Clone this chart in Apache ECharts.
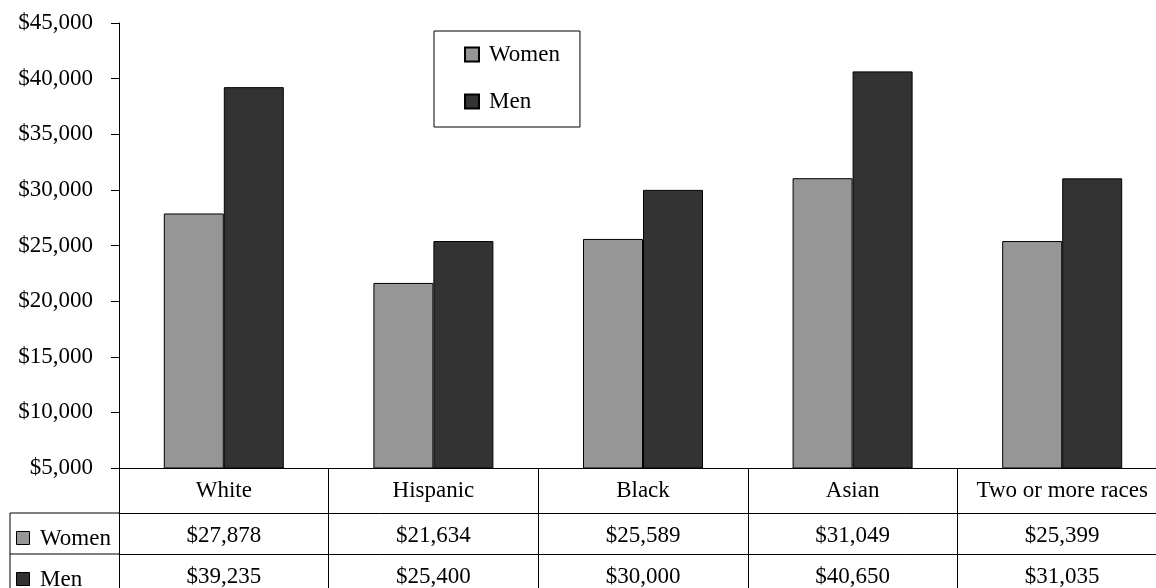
<!DOCTYPE html>
<html><head><meta charset="utf-8">
<script src="https://cdn.jsdelivr.net/npm/echarts@6/dist/echarts.min.js"></script>
<style>html,body{margin:0;padding:0;background:#fff;overflow:hidden;width:1156px;height:588px}#c{width:1180px;height:588px}</style>
</head><body><div id="c"></div>
<script>
const categories = ['White', 'Hispanic', 'Black', 'Asian', 'Two or more races'];
const seriesNames = ['Women', 'Men'];
const womenValues = [27878, 21634, 25589, 31049, 25399];
const menValues = [39235, 25400, 30000, 40650, 31035];
const yMin = 5000, yMax = 45000, yInterval = 5000;
const seriesColors = ['#969696', '#333333'];

const FONT = 'Liberation Serif';
const FS = 23;
const fmt = v => '$' + v.toLocaleString('en-US');
const GL = 119, GT = 23, GW = 1048, GH = 445;
const HEADER_H = 45, ROW_H = 41;
const TABLE_LEFT = 10;
const axisBottom = GT + GH;
const rowTops = [axisBottom + HEADER_H, axisBottom + HEADER_H + ROW_H];
const valueRows = [womenValues, menValues];

const chart = echarts.init(document.getElementById('c'), null, {renderer: 'canvas'});

const lineStyle = {color: '#000', width: 1};
const xAxes = [{
  type: 'category', data: categories, position: 'bottom', gridIndex: 0,
  axisLine: {show: true, lineStyle},
  axisTick: {show: true, length: HEADER_H + 2 * ROW_H + 20, lineStyle},
  axisLabel: {color: '#000', fontFamily: FONT, fontSize: FS, margin: 11, interval: 0}
}];
valueRows.forEach((vals, i) => {
  xAxes.push({
    type: 'category', data: categories, position: 'bottom', gridIndex: 0,
    offset: HEADER_H + i * ROW_H,
    axisLine: {show: true, lineStyle},
    axisTick: {show: false},
    axisLabel: {color: '#000', fontFamily: FONT, fontSize: FS, margin: 11, interval: 0,
      formatter: (v, idx) => fmt(vals[idx])}
  });
});

const graphics = [];
rowTops.forEach((top, i) => {
  graphics.push({type: 'line', shape: {x1: TABLE_LEFT, y1: top, x2: GL, y2: top}, style: {stroke: '#000', lineWidth: 1}});
  graphics.push({type: 'rect', shape: {x: TABLE_LEFT + 6.5, y: top + 18.5, width: 13, height: 13},
    style: {fill: seriesColors[i], stroke: '#000', lineWidth: 1}});
  graphics.push({type: 'text', x: TABLE_LEFT + 30, y: top + 25.5,
    style: {text: seriesNames[i], font: FS + 'px "' + FONT + '"', fill: '#000', textVerticalAlign: 'middle', textAlign: 'left'}});
});
graphics.push({type: 'line', shape: {x1: TABLE_LEFT, y1: rowTops[0], x2: TABLE_LEFT, y2: 600}, style: {stroke: '#000', lineWidth: 1}});

chart.setOption({
  animation: false,
  backgroundColor: '#fff',
  grid: {left: GL, top: GT, width: GW, height: GH, containLabel: false},
  legend: {
    orient: 'vertical', left: 434, top: 31,
    padding: [12, 20, 14, 30], itemGap: 24, itemWidth: 14, itemHeight: 14,
    borderColor: '#000', borderWidth: 1, backgroundColor: '#fff',
    textStyle: {color: '#000', fontFamily: FONT, fontSize: FS, padding: [0, 0, 0, 5]},
    icon: 'rect', data: seriesNames
  },
  xAxis: xAxes,
  yAxis: {
    type: 'value', min: yMin, max: yMax, interval: yInterval,
    axisLine: {show: true, lineStyle},
    axisTick: {show: true, length: 8, lineStyle},
    splitLine: {show: false},
    axisLabel: {color: '#000', fontFamily: FONT, fontSize: FS, margin: 26, formatter: fmt}
  },
  series: [
    {name: seriesNames[0], type: 'bar', xAxisIndex: 0, data: womenValues, barWidth: 60, barGap: '0%',
      itemStyle: {color: seriesColors[0], borderColor: '#000', borderWidth: 1}},
    {name: seriesNames[1], type: 'bar', xAxisIndex: 0, data: menValues, barWidth: 60, barGap: '0%',
      itemStyle: {color: seriesColors[1], borderColor: '#000', borderWidth: 1}}
  ],
  graphic: graphics
});
</script></body></html>
